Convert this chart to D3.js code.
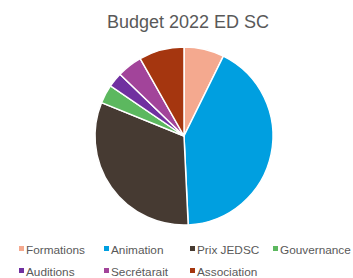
<!DOCTYPE html>
<html>
<head>
<meta charset="utf-8">
<script src="https://cdn.jsdelivr.net/npm/d3@7"></script>
<style>
  body { margin: 0; background: #fff; overflow: hidden; }
  text { font-family: "Liberation Sans", Arial, sans-serif; }
</style>
</head>
<body>
<div id="chart"></div>
<script>
// valeurs (en %)
const categories = ["Formations", "Animation", "Prix JEDSC", "Gouvernance", "Auditions", "Secrétarait", "Association"];
const values = [7.3, 42.0, 31.9, 3.4, 2.7, 4.6, 8.2];
const colors = ["#F4A98F", "#009FE0", "#463A32", "#5CB85F", "#7030A0", "#A2449A", "#A5360F"];
const title = "Budget 2022 ED SC";

const width = 353, height = 278;
const cx = 184, cy = 136, radius = 89;

const svg = d3.select("#chart").append("svg")
    .attr("width", width)
    .attr("height", height);

svg.append("text")
    .attr("x", 188)
    .attr("y", 28)
    .attr("text-anchor", "middle")
    .attr("font-size", 18)
    .attr("fill", "#595959")
    .text(title);

const pie = d3.pie().sort(null).value(d => d);
const arc = d3.arc().innerRadius(0).outerRadius(radius);

svg.append("g")
    .attr("transform", "translate(" + cx + "," + cy + ")")
  .selectAll("path")
  .data(pie(values))
  .join("path")
    .attr("d", arc)
    .attr("fill", (d, i) => colors[i])
    .attr("stroke", "#fff")
    .attr("stroke-width", 1.5);

// légende sur deux lignes
const colX = [19, 104, 190, 273];
const legend = svg.append("g")
  .selectAll("g")
  .data(categories)
  .join("g")
    .attr("transform", (d, i) => "translate(" + colX[i % 4] + "," + (i < 4 ? 250 : 272) + ")");

legend.append("rect")
    .attr("x", 0)
    .attr("y", -4)
    .attr("width", 5)
    .attr("height", 5)
    .attr("fill", (d, i) => colors[i]);

legend.append("text")
    .attr("x", 7)
    .attr("y", 0)
    .attr("dy", "0.35em")
    .attr("font-size", 11.8)
    .attr("fill", "#595959")
    .text(d => d);
</script>
</body>
</html>
